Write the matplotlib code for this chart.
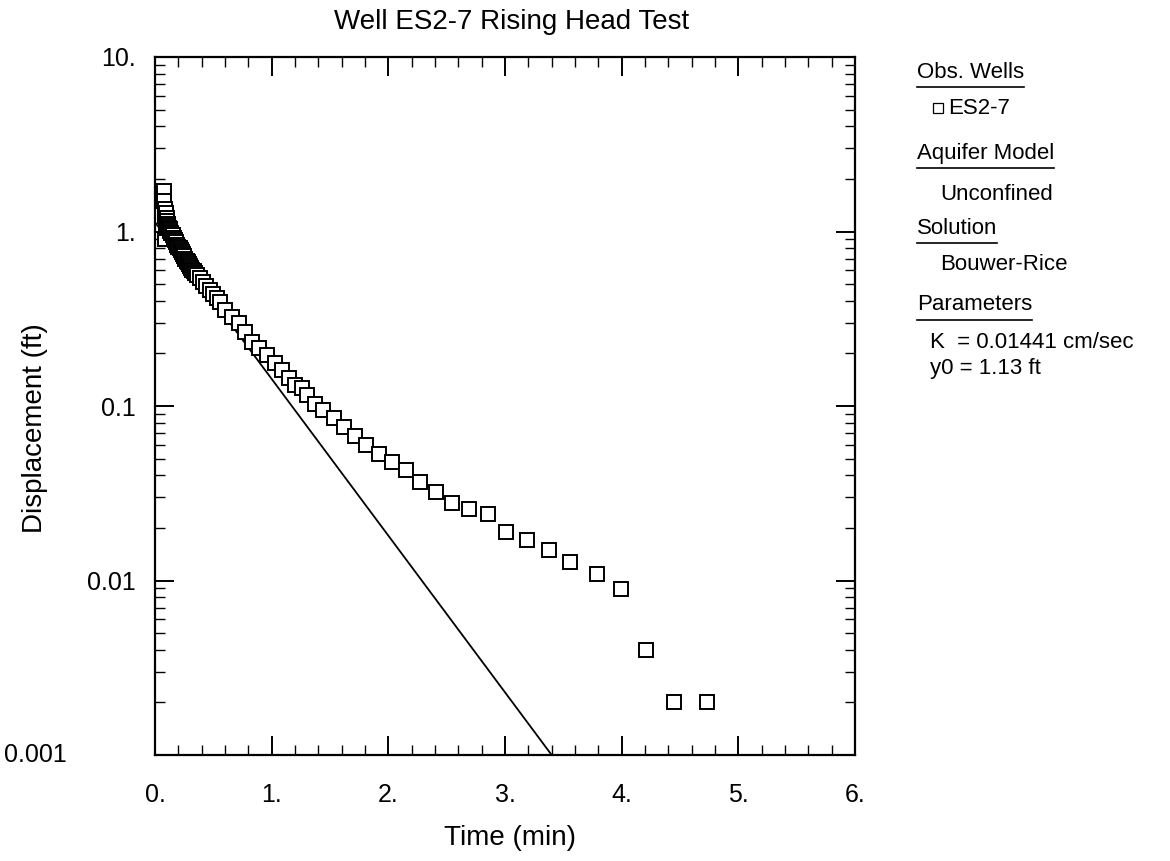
#!/usr/bin/env python3
"""
Rising head test (Bouwer-Rice) semilog plot for well ES2-7.
"""

import matplotlib
matplotlib.use("Agg")
import matplotlib.pyplot as plt
from matplotlib.lines import Line2D
from matplotlib.ticker import FixedLocator, MultipleLocator, LogLocator, NullFormatter

plt.rcParams["font.family"] = ["Liberation Sans", "DejaVu Sans"]

obs_time = [0.080, 0.080, 0.082, 0.085, 0.088, 0.090, 0.095, 0.100, 0.100, 0.105,
            0.110, 0.115, 0.120, 0.125, 0.130, 0.140, 0.150, 0.160, 0.170, 0.180,
            0.190, 0.200, 0.210, 0.220, 0.230, 0.240, 0.250, 0.260, 0.270, 0.280,
            0.290, 0.300, 0.310, 0.320, 0.330, 0.345, 0.360, 0.385, 0.41, 0.44,
            0.47, 0.50, 0.53, 0.556, 0.60, 0.66, 0.72, 0.77, 0.83, 0.89,
            0.96, 1.03, 1.09, 1.15, 1.20, 1.256, 1.30, 1.37, 1.44, 1.53,
            1.62, 1.71, 1.81, 1.92, 2.03, 2.15, 2.27, 2.41, 2.55, 2.69,
            2.85, 3.01, 3.19, 3.38, 3.56, 3.79, 3.99, 4.21, 4.45, 4.73]
obs_disp = [1.70, 1.50, 1.35, 1.22, 0.90, 1.12, 1.28, 1.20, 1.05, 1.15,
            1.10, 1.08, 1.05, 1.03, 1.01, 0.98, 0.95, 0.92, 0.89, 0.87,
            0.84, 0.82, 0.80, 0.78, 0.76, 0.74, 0.72, 0.70, 0.68, 0.665,
            0.65, 0.635, 0.62, 0.605, 0.59, 0.575, 0.56, 0.54, 0.515, 0.49,
            0.465, 0.44, 0.415, 0.395, 0.355, 0.324, 0.299, 0.266, 0.233, 0.215,
            0.196, 0.176, 0.161, 0.145, 0.132, 0.127, 0.116, 0.103, 0.0948, 0.0853,
            0.0758, 0.0673, 0.0598, 0.0531, 0.0478, 0.0430, 0.0367, 0.0321, 0.0278, 0.0257,
            0.0241, 0.019, 0.017, 0.015, 0.0128, 0.0109, 0.0089, 0.0040, 0.0020, 0.0020]

# ── Bouwer-Rice fitted straight line (end points) ────────────────────────
fit_time = [0.0, 3.40]
fit_disp = [1.13, 0.001]

x_ticks = [0, 1, 2, 3, 4, 5, 6]
x_tick_labels = ["0.", "1.", "2.", "3.", "4.", "5.", "6."]
y_ticks = [0.001, 0.01, 0.1, 1, 10]
y_tick_labels = ["", "0.01", "0.1", "1.", "10."]
bottom_y_label = "0.001"   # sits further left than the others in the scan

legend_rows = [
    ("Obs. Wells", True),
    ("ES2-7", False),
    ("Aquifer Model", True),
    ("Unconfined", False),
    ("Solution", True),
    ("Bouwer-Rice", False),
    ("Parameters", True),
    ("K  = 0.01441 cm/sec", False),
    ("y0 = 1.13 ft", False),
]

W, H = 1170, 861
fig = plt.figure(figsize=(W / 100, H / 100), dpi=100)
ax = fig.add_axes([155 / W, 1 - 755 / H, 700 / W, 698 / H])

ax.plot(fit_time, fit_disp, color="black", lw=1.3)
ax.plot(obs_time, obs_disp, ls="none", marker="s", ms=9.5,
        mfc="white", mec="black", mew=1.4)

ax.set_yscale("log")
ax.set_xlim(0, 6)
ax.set_ylim(0.001, 10)

ax.xaxis.set_major_locator(FixedLocator(x_ticks))
ax.set_xticklabels(x_tick_labels)
ax.xaxis.set_minor_locator(MultipleLocator(0.2))
ax.yaxis.set_major_locator(FixedLocator(y_ticks))
ax.set_yticklabels(y_tick_labels)
ax.yaxis.set_minor_locator(LogLocator(base=10, subs=range(2, 10)))
ax.yaxis.set_minor_formatter(NullFormatter())

ax.tick_params(which="both", direction="in", top=True, right=True,
               labelsize=18, color="black")
ax.tick_params(axis="x", which="major", length=14, width=1.4, pad=20)
ax.tick_params(axis="y", which="major", length=14, width=1.4, pad=14)
ax.tick_params(which="minor", length=7, width=1.0)
for sp in ax.spines.values():
    sp.set_linewidth(1.6)

fig.text(4 / W, 1 - 755 / H, bottom_y_label, ha="left", va="center",
         fontsize=18)
fig.text(512 / W, 1 - 22 / H, "Well ES2-7 Rising Head Test",
         ha="center", va="center", fontsize=20)
fig.text(510 / W, 1 - 838 / H, "Time (min)",
         ha="center", va="center", fontsize=20)
fig.text(35 / W, 1 - 428 / H, "Displacement (ft)",
         ha="center", va="center", rotation=90, fontsize=20)

# ── legend panel on the right ─────────────────────────────────────────────
row_y = [72, 108, 153, 195, 228, 265, 305, 342, 368]
fig.canvas.draw()
renderer = fig.canvas.get_renderer()
for (label, header), y in zip(legend_rows, row_y):
    if header:
        t = fig.text(917 / W, 1 - y / H, label, ha="left", va="center",
                     fontsize=16)
        bb = t.get_window_extent(renderer)
        uy = 1 - (y + 15) / H
        fig.add_artist(Line2D([bb.x0 / W, bb.x1 / W], [uy, uy],
                              color="black", lw=1.2))
    elif label == "ES2-7":
        fig.add_artist(Line2D([938 / W], [1 - y / H], ls="none", marker="s",
                              ms=7, mfc="white", mec="black", mew=0.9))
        fig.text(948 / W, 1 - y / H, label, ha="left", va="center",
                 fontsize=16)
    elif label.startswith(("K", "y0")):
        fig.text(930 / W, 1 - y / H, label, ha="left", va="center",
                 fontsize=16)
    else:
        fig.text(940 / W, 1 - y / H, label, ha="left", va="center",
                 fontsize=16)

fig.savefig("out.png", dpi=100, facecolor="white")
